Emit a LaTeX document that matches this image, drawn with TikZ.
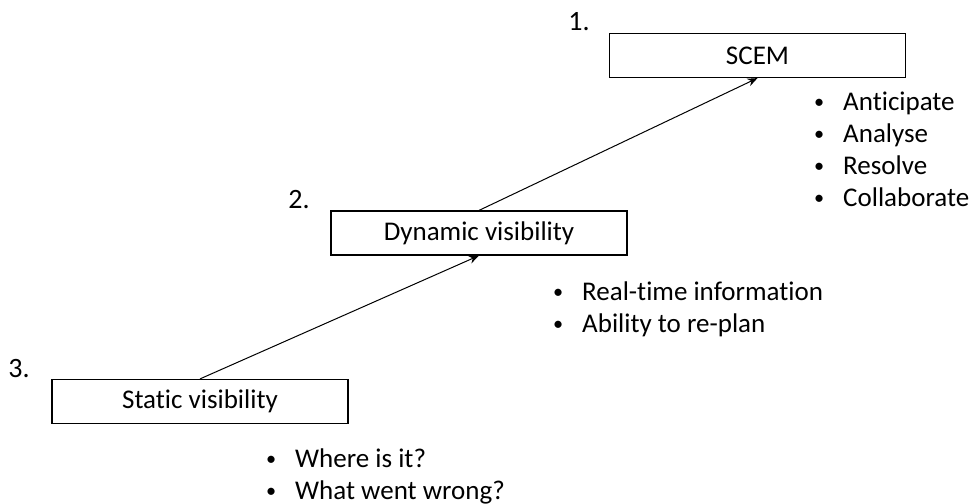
\documentclass[tikz,border=0pt]{standalone}
\usepackage{fontspec}
\setmainfont{Carlito}[Ligatures=NoCommon]
\usetikzlibrary{arrows.meta}
\newcommand{\bul}{\makebox[29pt][l]{\raisebox{1.5pt}{\scalebox{0.75}{\textbullet}}}}

\begin{document}
\begin{tikzpicture}[x=1pt,y=-1pt,
  stage/.style={draw, line width=1.2pt, minimum width=296pt, minimum height=44pt, inner sep=0pt, font=\fontsize{27}{30}\selectfont},
  notes/.style={align=left, inner sep=0pt, font=\fontsize{27}{32}\selectfont},
  num/.style={inner sep=0pt, font=\fontsize{28}{30}\selectfont},
  climb/.style={-{Stealth[length=10pt,width=8pt]}, line width=1pt}]
\useasboundingbox (0,0) rectangle (973,503);
\node[stage] (scem) at (757.5,55.5) {SCEM};
\node[stage] (dynamic) at (479,233) {Dynamic visibility};
\node[stage] (static) at (200,401.5) {Static visibility};
\node[num] (one) at (579,22) {1.};
\node[num] (two) at (299,200) {2.};
\node[num] (three) at (19,368.5) {3.};
% anchored at the baseline of the last line
\node[notes, anchor=base west] (scemnotes) at (814,206) {\bul Anticipate\\ \bul Analyse\\ \bul Resolve\\ \bul Collaborate};
\node[notes, anchor=base west] (dynnotes) at (553,332) {\bul Real-time information\\ \bul Ability to re-plan};
\node[notes, anchor=base west] (statnotes) at (266,499) {\bul Where is it?\\ \bul What went wrong?};
\draw[climb] (static.north) -- (dynamic.south);
\draw[climb] (dynamic.north) -- (scem.south);
\end{tikzpicture}
\end{document}
